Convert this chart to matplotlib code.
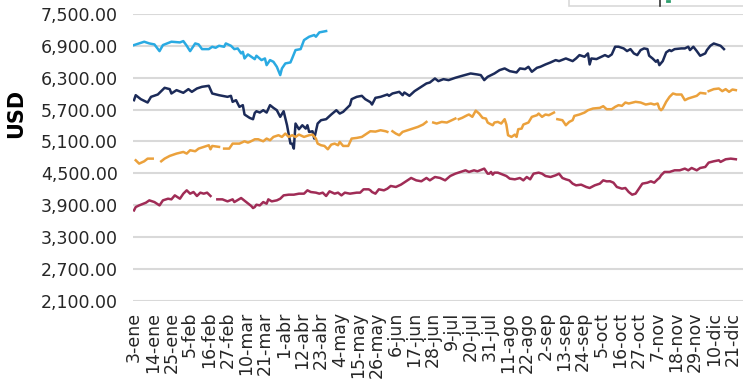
import matplotlib.pyplot as plt
from matplotlib.patches import Rectangle
from matplotlib.lines import Line2D
import pandas as pd

nan = float('nan')

inicio = pd.Timestamp('2018-01-03')
meses = ['ene', 'feb', 'mar', 'abr', 'may', 'jun', 'jul', 'ago', 'sep', 'oct', 'nov', 'dic']

# dias contados desde el 3 de enero; nan = dia sin cotizacion
dias_celeste = [0, 6, 9, 12, 15, 17, 22, 27, 29, 31, 33, 36, 38, 40, 44, 46, 48, 50, 53, 54,
                57, 59, 61, 63, 64, 65, 67, 69, 71, 72, 75, 77, 78, 80, 82, 84, 86, 87, 89, 92,
                93, 95, 98, 100, 103, 106, 107, 109, 113]
usd_celeste = [6915, 6978, 6946, 6927, 6801, 6915, 6978, 6965, 6990, 6902, 6801, 6946, 6927, 6839,
               6839, 6883, 6864, 6902, 6883, 6946, 6902, 6839, 6852, 6758, 6789, 6663, 6739, 6695,
               6650, 6714, 6632, 6663, 6537, 6632, 6600, 6506, 6349, 6474, 6569, 6588, 6663, 6821,
               6839, 7009, 7072, 7104, 7072, 7154, 7179]

dias_azul = [0, 1, 4, 8, 10, 14, 18, 21, 22, 25, 29, 32, 34, 37, 40, 44, 46, 50, 55, 57,
             58, 60, 62, 64, 65, 68, 70, 71, 72, 74, 76, 78, 80, 82, 84, 86, 88, 90, 92, 93,
             94, 95, 97, 99, 101, 102, 103, 105, 106, 108, 110, 113, 116, 119, 121, 123, 127, 128, 131, 134,
             136, 139, 140, 142, 145, 149, 150, 152, 156, 158, 159, 162, 165, 169, 172, 174, 177, 179, 182, 185,
             189, 193, 198, 202, 204, 206, 208, 210, 212, 215, 218, 221, 225, 227, 230, 232, 234, 237, 239, 242,
             245, 248, 250, 254, 258, 260, 262, 265, 267, 268, 269, 272, 275, 277, 279, 281, 283, 285, 288, 290,
             292, 294, 296, 298, 300, 302, 303, 305, 307, 308, 309, 311, 313, 315, 316, 318, 322, 324, 326, 327,
             329, 331, 333, 336, 337, 339, 341, 345, 347]
usd_azul = [5877, 5971, 5896, 5833, 5940, 5984, 6110, 6085, 6003, 6066, 6016, 6085, 6034, 6097, 6129, 6148, 6003, 5971, 5940, 5959,
            5846, 5877, 5751, 5783, 5607, 5544, 5518, 5635, 5669, 5644, 5688, 5644, 5783, 5732, 5688, 5563, 5669, 5405, 5059, 5059,
            4965, 5437, 5330, 5405, 5342, 5405, 5279, 5292, 5154, 5437, 5500, 5519, 5607, 5688, 5625, 5657, 5783, 5896, 5940, 5959,
            5896, 5840, 5795, 5921, 5940, 5984, 5959, 6003, 6034, 5971, 6022, 5959, 6047, 6129, 6192, 6210, 6286, 6236, 6273, 6255,
            6299, 6336, 6380, 6361, 6349, 6255, 6317, 6349, 6380, 6443, 6475, 6424, 6399, 6475, 6462, 6506, 6412, 6487, 6506, 6550,
            6588, 6632, 6613, 6663, 6613, 6663, 6726, 6695, 6758, 6550, 6663, 6651, 6695, 6726, 6695, 6739, 6884, 6884, 6852, 6802,
            6839, 6758, 6726, 6821, 6852, 6839, 6714, 6663, 6600, 6632, 6537, 6613, 6777, 6821, 6802, 6839, 6852, 6852, 6884, 6821,
            6884, 6802, 6714, 6758, 6821, 6902, 6945, 6902, 6839]

dias_naranja = [1, 3, 6, 8, 11, 13, 16, 18, 21, 25, 29, 31, 33, 36, 38, 41, 44, 45, 46, 50,
                51, 53, 56, 58, 62, 65, 67, 68, 70, 71, 73, 76, 78, 80, 82, 85, 87, 89, 91, 93,
                95, 97, 100, 103, 105, 107, 108, 110, 112, 114, 116, 118, 120, 121, 123, 126, 128, 131, 134, 137,
                139, 142, 145, 148, 149, 150, 152, 154, 156, 158, 161, 164, 167, 170, 172, 174, 176, 178, 181, 184,
                187, 189, 190, 191, 193, 196, 197, 199, 201, 203, 205, 207, 208, 209, 211, 212, 214, 216, 218, 219,
                220, 222, 224, 225, 226, 228, 229, 232, 234, 237, 238, 240, 242, 244, 247, 248, 249, 252, 254, 256,
                258, 259, 262, 265, 267, 270, 274, 276, 278, 281, 283, 285, 287, 289, 291, 295, 298, 301, 304, 306,
                308, 309, 310, 311, 313, 315, 317, 319, 322, 324, 326, 329, 331, 333, 336, 337, 338, 341, 344, 346,
                348, 350, 352, 354]
usd_naranja = [4745, 4682, 4726, 4776, 4776, nan, 4726, 4776, 4827, 4871, 4902, 4871, 4934, 4915, 4965, 4997, 5028, 4952, 5015, 4997,
               nan, 4965, 4965, 5059, 5059, 5103, 5078, 5091, 5122, 5140, 5141, 5103, 5154, 5122, 5185, 5217, 5185, 5248, 5185, 5217,
               5185, 5229, 5185, 5217, 5229, 5154, 5059, 5028, 5015, 4952, 5040, 5059, 5028, 5091, 5015, 5015, 5154, 5166, 5185, 5248,
               5292, 5285, 5311, 5292, 5280, nan, 5292, 5248, 5217, 5280, 5311, 5342, 5374, 5418, 5468, nan, 5456, 5437, 5468, 5456,
               5500, 5531, nan, 5519, 5544, 5594, 5607, 5563, 5680, 5625, 5544, 5531, 5456, 5437, 5405, 5456, 5468, 5437, 5519, 5418,
               5217, 5185, 5229, 5185, 5330, 5342, 5418, 5456, 5563, 5594, 5625, 5563, 5607, 5594, 5644, nan, 5519, 5500, 5405, 5468,
               5500, 5581, 5607, 5644, 5688, 5720, 5732, 5764, 5707, 5707, 5751, 5783, 5770, 5833, 5814, 5846, 5833, 5795, 5814, 5795,
               5814, 5720, 5688, 5720, 5846, 5940, 6003, 5984, 5984, 5877, 5909, 5940, 5959, 6015, 6003, nan, 6047, 6085, 6097, 6047,
               6085, 6034, 6078, 6066]

dias_granate = [0, 1, 3, 7, 9, 12, 15, 17, 20, 22, 24, 27, 29, 31, 33, 35, 37, 39, 41, 43,
                45, 47, 49, 52, 55, 58, 59, 63, 66, 69, 70, 71, 72, 74, 76, 78, 79, 81, 84, 86,
                88, 91, 94, 97, 100, 102, 104, 107, 109, 111, 113, 115, 118, 120, 122, 124, 127, 131, 133, 135,
                138, 139, 140, 142, 144, 147, 149, 151, 154, 157, 160, 163, 166, 169, 172, 174, 177, 180, 183, 186,
                189, 192, 195, 197, 200, 202, 206, 208, 209, 210, 211, 212, 214, 217, 219, 221, 224, 227, 229, 231,
                233, 235, 238, 240, 242, 245, 248, 250, 252, 254, 256, 258, 260, 263, 266, 268, 271, 274, 276, 278,
                280, 282, 284, 287, 289, 291, 293, 295, 297, 299, 302, 304, 306, 308, 309, 310, 312, 315, 318, 321,
                324, 326, 328, 331, 333, 336, 338, 341, 344, 345, 348, 351, 354]
usd_granate = [3801, 3864, 3895, 3946, 3990, 3958, 3895, 3990, 4021, 4009, 4084, 4021, 4116, 4179, 4116, 4147, 4072, 4135, 4116, 4135,
               4072, nan, 4009, 4009, 3971, 4009, 3958, 4034, 3958, 3883, 3845, 3864, 3908, 3895, 3958, 3927, 4009, 3971, 3990, 4021,
               4084, 4097, 4097, 4116, 4116, 4179, 4147, 4135, 4116, 4135, 4072, 4160, 4116, 4135, 4084, 4135, 4116, 4135, 4135, 4198,
               4198, 4180, 4147, 4116, 4198, 4179, 4210, 4261, 4242, 4286, 4349, 4412, 4367, 4349, 4412, 4367, 4430, 4412, 4367, 4449,
               4493, 4525, 4556, 4525, 4556, 4537, 4588, 4493, 4493, 4525, 4474, 4512, 4512, 4474, 4449, 4399, 4386, 4411, 4367, 4430,
               4386, 4493, 4512, 4493, 4449, 4430, 4462, 4493, 4411, 4386, 4367, 4305, 4273, 4286, 4242, 4223, 4273, 4305, 4367, 4348,
               4350, 4323, 4242, 4210, 4223, 4147, 4097, 4116, 4210, 4305, 4323, 4349, 4323, 4386, 4411, 4462, 4525, 4525, 4556, 4556,
               4588, 4556, 4600, 4556, 4600, 4619, 4701, 4726, 4745, 4714, 4764, 4776, 4764]

series = [
    (dias_celeste, usd_celeste, '#2AAAE2'),
    (dias_azul, usd_azul, '#1C2B59'),
    (dias_naranja, usd_naranja, '#EBA13C'),
    (dias_granate, usd_granate, '#A02C56'),
]

fig = plt.figure(figsize=(7.43, 3.83), dpi=100)
ax = fig.add_axes([0.179, 0.2149, 0.821, 0.7485])

for dias, usd, color in series:
    fechas = inicio + pd.to_timedelta(dias, unit='D')
    ax.plot(fechas, usd, color=color, linewidth=1.8, solid_joinstyle='round')

ax.set_ylim(2100, 7500)
ax.set_yticks(range(2100, 7501, 600))
ax.set_yticklabels([f'{v:,.2f}' for v in range(2100, 7501, 600)])

ticks = pd.date_range(inicio, periods=33, freq='11D')
ax.set_xticks(ticks)
ax.set_xticklabels([f'{d.day}-{meses[d.month - 1]}' for d in ticks], rotation=90)
ax.set_xlim(inicio - pd.Timedelta(days=0.6), inicio + pd.Timedelta(days=358.2))

ax.tick_params(axis='y', length=0, pad=11, labelsize=12.5, labelcolor='#262626')
ax.tick_params(axis='x', length=0, pad=8, labelsize=12.5, labelcolor='#262626')

ax.set_ylabel('USD', fontsize=15, fontweight='bold', color='black')
ax.yaxis.set_label_coords(-0.175, 0.652)

ax.yaxis.grid(True, color='#D9D9D9', linewidth=1.5)
ax.set_axisbelow(True)
for s in ax.spines.values():
    s.set_visible(False)

# recuadro de la leyenda, cortado en el borde superior
fig.patches.append(Rectangle((0.766, 0.984), 0.3, 0.1, transform=fig.transFigure,
                             facecolor='white', edgecolor='#D9D9D9', linewidth=1.2))
fig.lines.append(Line2D([0.888, 0.888], [0.984, 1.0], transform=fig.transFigure,
                        color='#333333', linewidth=1.2))
fig.lines.append(Line2D([0.898, 0.901], [0.997, 0.997], transform=fig.transFigure,
                        color='#2E9E6E', linewidth=2))

fig.savefig('out.png', dpi=100)
